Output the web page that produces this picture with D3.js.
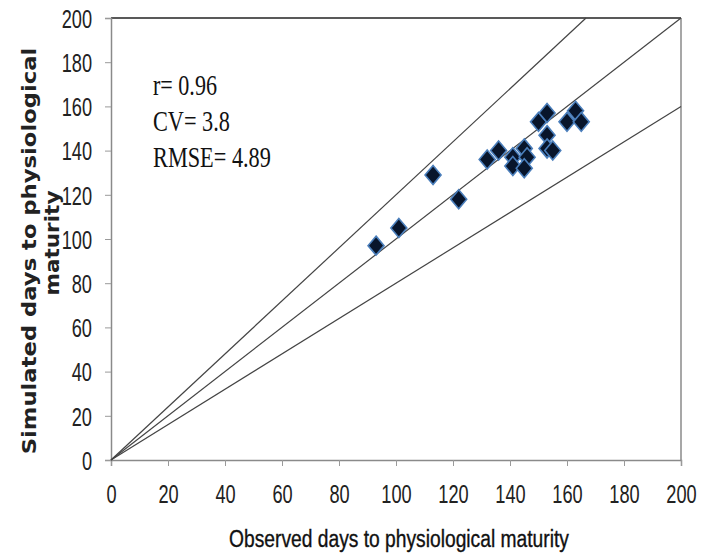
<!DOCTYPE html>
<html>
  <script src="https://cdn.jsdelivr.net/npm/d3@7/dist/d3.min.js" charset="utf-8"></script>
  <style>
    body { margin: 0; background: #fff; }
    svg { display: block; }
  </style>
  <body>
    <script>
// observed vs simulated days to physiological maturity
var observed  = [93, 101, 113, 122, 132, 136, 141, 141, 145, 146, 145, 150, 153, 153, 153, 155, 160, 163, 165]
var simulated = [97, 105, 129, 118, 136, 140, 137, 133, 141, 137, 132, 153, 157, 147, 141, 140, 153, 158, 153]
var refSlopes = [1.2, 1, 0.8]
var ticks = [0, 20, 40, 60, 80, 100, 120, 140, 160, 180, 200]
var stats = ['r= 0.96', 'CV= 3.8', 'RMSE= 4.89']

var width = 716, height = 554
  , svg = d3.select('body').append('svg').attr('width', width).attr('height', height)
  , x = d3.scaleLinear().domain([0, 200]).range([111, 681])
  , y = d3.scaleLinear().domain([0, 200]).range([460, 18])

// squeeze a text sideways so it fills the wanted width
function fit(t, w){
  var len = t.node().getComputedTextLength()
  t.attr('transform', (t.attr('transform') || '') + ' scale(' + (w / len) + ',1)')
}

// frame
svg.append('line').attr('x1', x(0)).attr('x2', x(200)).attr('y1', y(200)).attr('y2', y(200))
  .attr('stroke', '#222').attr('stroke-width', 1.5)
svg.append('line').attr('x1', x(200)).attr('x2', x(200)).attr('y1', y(0)).attr('y2', y(200))
  .attr('stroke', '#8a8a8a').attr('stroke-width', 1.5)

// axes
var yAxis = svg.append('g').attr('transform', 'translate(' + x(0) + ',0)')
  .call(d3.axisLeft(y).tickValues(ticks).tickSize(6).tickPadding(0))
var xAxis = svg.append('g').attr('transform', 'translate(0,' + y(0) + ')')
  .call(d3.axisBottom(x).tickValues(ticks).tickSize(6).tickPadding(0))

;[yAxis, xAxis].forEach(function(a){
  a.select('.domain').attr('stroke', '#8a8a8a').attr('stroke-width', 1.5)
  a.selectAll('.tick line').attr('stroke', '#9a9a9a')
  a.selectAll('text').attr('font-family', 'Liberation Sans, Arial, sans-serif')
    .attr('font-size', 26).attr('fill', '#222')
})
yAxis.selectAll('text').attr('x', null).attr('dy', '0.36em').attr('text-anchor', 'end')
  .attr('transform', 'translate(-19,0) scale(0.7,1)')
xAxis.selectAll('text').attr('y', null).attr('dy', '0.36em')
  .attr('transform', 'translate(0,34) scale(0.7,1)')

// reference lines through the origin
svg.append('g').selectAll('line').data(refSlopes).enter().append('line')
  .attr('x1', x(0)).attr('y1', y(0))
  .attr('x2', function(k){ return x(Math.min(200, 200 / k)) })
  .attr('y2', function(k){ return y(Math.min(200, 200 / k) * k) })
  .attr('stroke', '#444').attr('stroke-width', 1.2)

// points
var diamond = 'M0,-9.5L8,0L0,9.5L-8,0Z'
svg.append('g').selectAll('path').data(observed).enter().append('path')
  .attr('d', diamond)
  .attr('transform', function(d, i){ return 'translate(' + x(d) + ',' + y(simulated[i]) + ')' })
  .attr('fill', '#08152b').attr('stroke', '#4a7ebb').attr('stroke-width', 1.6)

// statistics
svg.append('g').selectAll('text').data(stats).enter().append('text')
  .attr('transform', function(d, i){ return 'translate(153,' + (95 + i * 36) + ')' })
  .attr('font-family', 'Liberation Serif, Times New Roman, serif').attr('font-size', 29)
  .attr('fill', '#111').text(function(d){ return d })
  .each(function(d){ fit(d3.select(this), { 'r= 0.96': 64, 'CV= 3.8': 77, 'RMSE= 4.89': 118 }[d]) })

// axis titles
var xt = svg.append('text').attr('transform', 'translate(399,547)').attr('text-anchor', 'middle')
  .attr('font-family', 'Liberation Sans, Arial, sans-serif').attr('font-size', 23)
  .attr('fill', '#111').attr('stroke', '#111').attr('stroke-width', 0.35)
  .text('Observed days to physiological maturity')
fit(xt, 340)

var yt1 = svg.append('text').attr('transform', 'translate(36,251) rotate(-90)').attr('text-anchor', 'middle')
  .attr('font-family', 'DejaVu Sans, Verdana, sans-serif').attr('font-weight', 'bold').attr('font-size', 20)
  .attr('fill', '#222').text('Simulated days to physiological')
fit(yt1, 407)
var yt2 = svg.append('text').attr('transform', 'translate(59,243) rotate(-90)').attr('text-anchor', 'middle')
  .attr('font-family', 'DejaVu Sans, Verdana, sans-serif').attr('font-weight', 'bold').attr('font-size', 20)
  .attr('fill', '#222').text('maturity')
fit(yt2, 105)

    </script>
  </body>
</html>
